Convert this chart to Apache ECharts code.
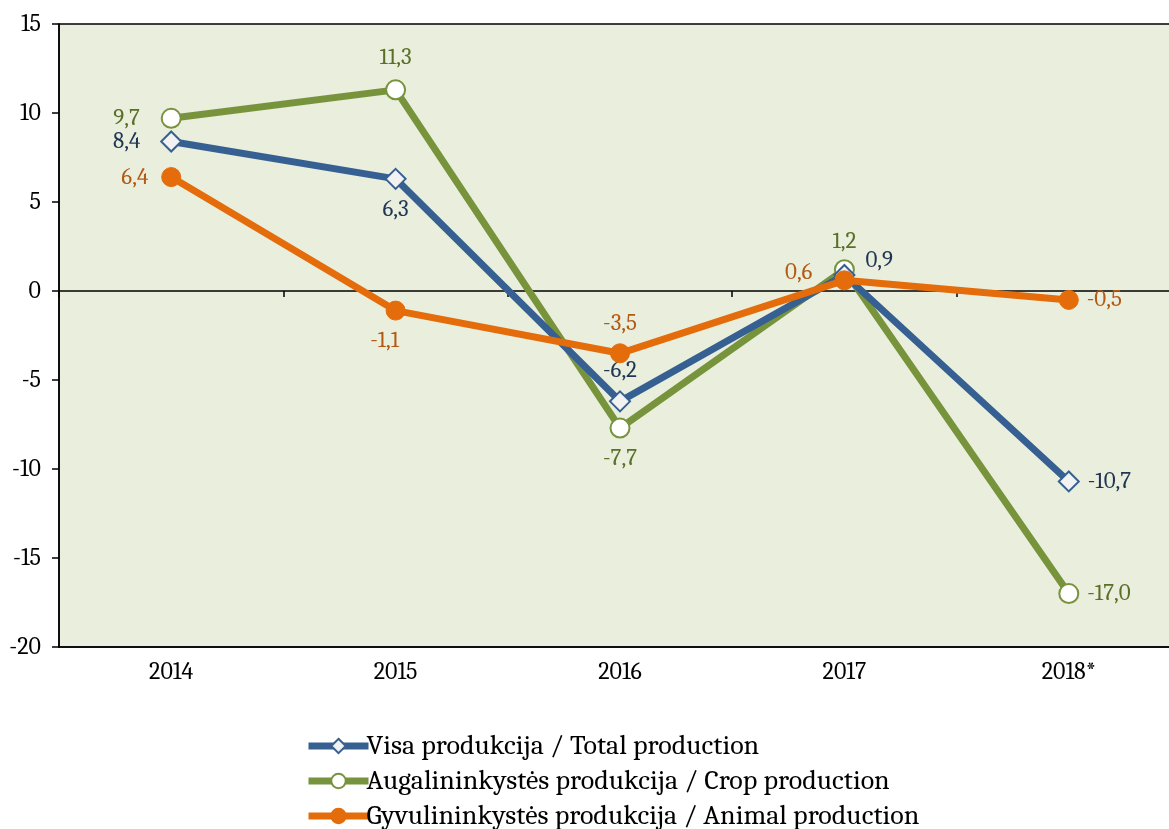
<!DOCTYPE html>
<html>
<head>
<meta charset="utf-8">
<script src="https://cdn.jsdelivr.net/npm/echarts@6/dist/echarts.min.js"></script>
<style>
    html, body { margin: 0; padding: 0; background: #fff; overflow: hidden; }
    #chart { width: 1200px; height: 829px; }
</style>
</head>
<body>
<div id="chart"></div>
<script>
    var years = ['2014', '2015', '2016', '2017', '2018*']
    var totalProd = [8.4, 6.3, -6.2, 0.9, -10.7]
    var cropProd = [9.7, 11.3, -7.7, 1.2, -17.0]
    var animalProd = [6.4, -1.1, -3.5, 0.6, -0.5]
    var seriesNames = [
        'Visa produkcija / Total production',
        'Augalininkystės produkcija / Crop production',
        'Gyvulininkystės produkcija / Animal production'
    ]
    // label positions
    var totalPos = ['left', 'bottom', 'top', 'right', 'right']
    var cropPos = ['left', 'top', 'bottom', 'top', 'right']
    var animalPos = ['left', 'bottom', 'top', 'left', 'right']

    var font = 'Cambria, "Liberation Serif", "DejaVu Serif", serif'

    function withPos(values, pos) {
        return values.map(function (v, i) {
            return { value: v, label: { position: pos[i] } }
        })
    }

    function fmt(p) {
        return p.value.toFixed(1).replace('.', ',')
    }

    var totalData = withPos(totalProd, totalPos)
    totalData[0].label.distance = 20
    totalData[3].label.offset = [2, -14]
    var cropData = withPos(cropProd, cropPos)
    cropData[0].label.distance = 21
    cropData[1].label.distance = 10
    cropData[3].label.distance = 6
    var animalData = withPos(animalProd, animalPos)
    animalData[0].label.distance = 13
    animalData[3].label.distance = 22
    animalData[3].label.offset = [0, -8]
    animalData[1].label.offset = [-11, 0]

    // the plot runs past the right edge of the picture, so the canvas is wider than the window
    function legendAt(name, top) {
        return {
            orient: 'vertical',
            left: 305,
            top: top,
            padding: 0,
            itemWidth: 60,
            itemHeight: 18,
            itemGap: 0,
            lineStyle: { width: 7 },
            textStyle: { fontFamily: font, fontSize: 28, color: '#000', padding: [0, 0, 0, -7] },
            data: [name]
        }
    }

    var chart = echarts.init(document.getElementById('chart'))
    chart.setOption({
        animation: false,
        textStyle: { fontFamily: font },
        grid: {
            left: 59,
            top: 24,
            height: 623,
            width: 1122,
            show: true,
            backgroundColor: '#EAEEDD',
            borderColor: '#000',
            borderWidth: 1.5
        },
        legend: [
            legendAt(seriesNames[0], 732),
            legendAt(seriesNames[1], 767),
            legendAt(seriesNames[2], 802)
        ],
        xAxis: [
            {
                type: 'category',
                data: years,
                boundaryGap: true,
                axisLine: { onZero: false, lineStyle: { color: '#000', width: 1.5 } },
                axisTick: { show: false },
                axisLabel: { fontFamily: font, fontSize: 24, color: '#000', margin: 13 },
                splitLine: { show: false }
            },
            {
                type: 'category',
                data: years,
                position: 'bottom',
                boundaryGap: true,
                axisLine: { onZero: true, lineStyle: { color: '#000', width: 1.5 } },
                axisTick: { show: true, length: 6, lineStyle: { color: '#000', width: 1.5 } },
                axisLabel: { show: false },
                splitLine: { show: false }
            }
        ],
        yAxis: {
            type: 'value',
            min: -20,
            max: 15,
            interval: 5,
            axisLine: { show: true, lineStyle: { color: '#000', width: 1.5 } },
            axisTick: { show: true, length: 7, lineStyle: { color: '#000', width: 1.5 } },
            axisLabel: { fontFamily: font, fontSize: 24, color: '#000', margin: 18 },
            splitLine: { show: false }
        },
        series: [
            {
                name: seriesNames[0],
                type: 'line',
                z: 3,
                data: totalData,
                symbol: 'diamond',
                symbolSize: 20,
                lineStyle: { color: '#376092', width: 7 },
                itemStyle: { color: '#F2F2F2', borderColor: '#376092', borderWidth: 2 },
                label: { show: true, formatter: fmt, fontFamily: font, fontSize: 23, color: '#1F3553', distance: 8 }
            },
            {
                name: seriesNames[1],
                type: 'line',
                z: 2,
                data: cropData,
                symbol: 'circle',
                symbolSize: 19,
                lineStyle: { color: '#77933C', width: 7 },
                itemStyle: { color: '#FFFFFF', borderColor: '#77933C', borderWidth: 2 },
                label: { show: true, formatter: fmt, fontFamily: font, fontSize: 23, color: '#5A7028', distance: 8 }
            },
            {
                name: seriesNames[2],
                type: 'line',
                z: 4,
                data: animalData,
                symbol: 'circle',
                symbolSize: 19,
                lineStyle: { color: '#E46C0A', width: 7 },
                itemStyle: { color: '#E46C0A', borderColor: '#E46C0A', borderWidth: 1 },
                label: { show: true, formatter: fmt, fontFamily: font, fontSize: 23, color: '#B35A14', distance: 8 }
            }
        ]
    })
</script>
</body>
</html>
